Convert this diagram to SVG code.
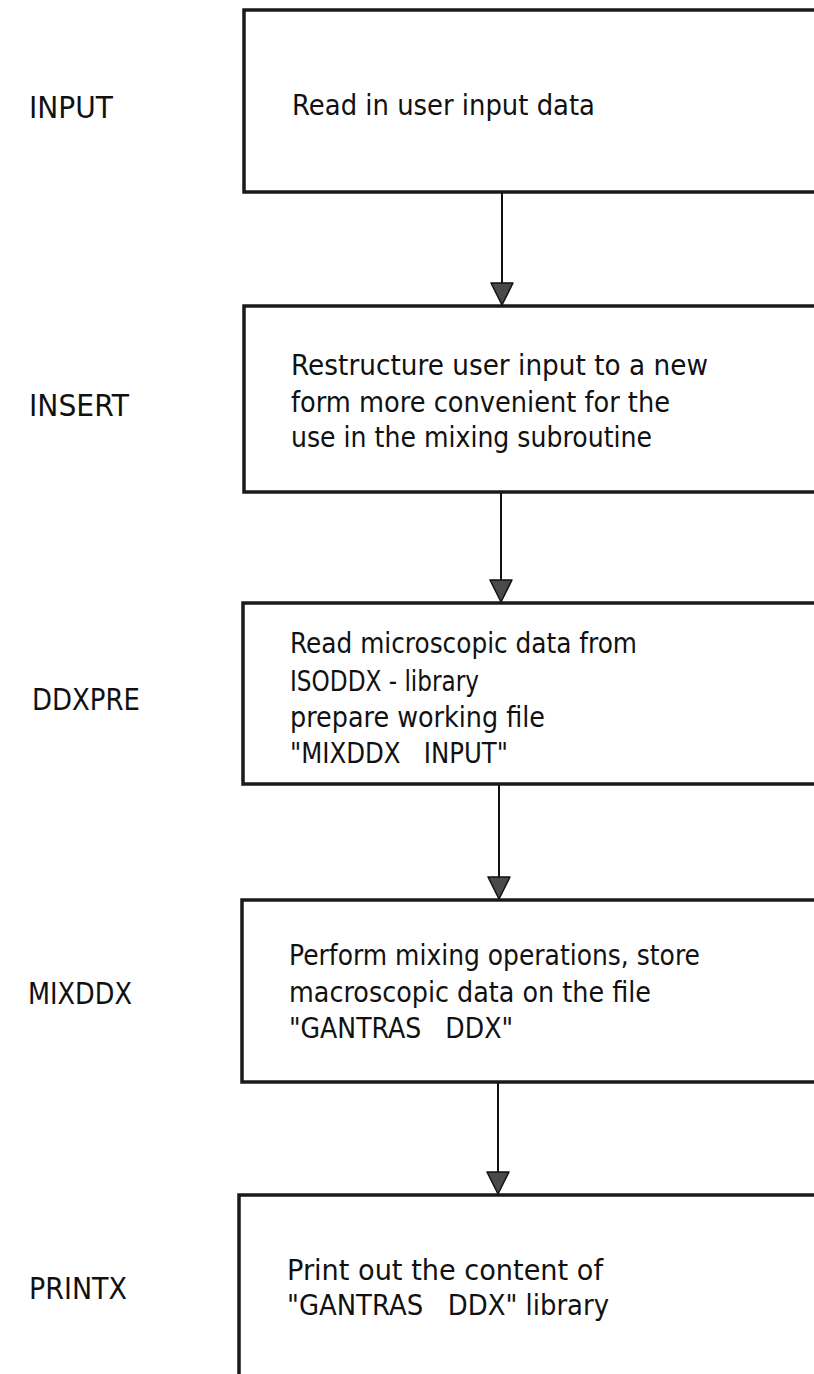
<svg xmlns="http://www.w3.org/2000/svg" width="814" height="1374" viewBox="0 0 814 1374">
<style>
.box{fill:none;stroke:#1a1a1a;stroke-width:3.5}
.t{font-family:"DejaVu Sans","Liberation Sans",sans-serif;font-size:28px;fill:#111}
.lbl{font-family:"DejaVu Sans","Liberation Sans",sans-serif;font-size:31px;fill:#111}
.conn{stroke:#111;stroke-width:2;fill:none}
.head{fill:#4a4a4a;stroke:#111;stroke-width:1.5;stroke-linejoin:round}
</style>
<rect width="814" height="1374" fill="#fff"/>
<g id="labels">
<text class="lbl" x="29" y="118" textLength="84" lengthAdjust="spacingAndGlyphs">INPUT</text>
<text class="lbl" x="29" y="416" textLength="100" lengthAdjust="spacingAndGlyphs">INSERT</text>
<text class="lbl" x="32" y="710" textLength="108" lengthAdjust="spacingAndGlyphs">DDXPRE</text>
<text class="lbl" x="28" y="1004" textLength="104" lengthAdjust="spacingAndGlyphs">MIXDDX</text>
<text class="lbl" x="29" y="1299" textLength="98" lengthAdjust="spacingAndGlyphs">PRINTX</text>
</g>
<g id="node-input">
<path class="box" d="M814 10 H244 V192 H814"/>
<text class="t" x="292" y="115" textLength="303" lengthAdjust="spacingAndGlyphs">Read in user input data</text>
</g>
<g id="node-insert">
<path class="box" d="M814 306 H244 V492 H814"/>
<text class="t" x="291" y="375" textLength="417" lengthAdjust="spacingAndGlyphs">Restructure user input to a new</text>
<text class="t" x="291" y="412" textLength="379" lengthAdjust="spacingAndGlyphs">form more convenient for the</text>
<text class="t" x="291" y="447" textLength="361" lengthAdjust="spacingAndGlyphs">use in the mixing subroutine</text>
</g>
<g id="node-ddxpre">
<path class="box" d="M814 603 H243 V784 H814"/>
<text class="t" x="290" y="653" textLength="347" lengthAdjust="spacingAndGlyphs">Read microscopic data from</text>
<text class="t" x="290" y="691" textLength="189" lengthAdjust="spacingAndGlyphs">ISODDX - library</text>
<text class="t" x="290" y="727" textLength="255" lengthAdjust="spacingAndGlyphs">prepare working file</text>
<text class="t" x="290" y="763" textLength="218" lengthAdjust="spacingAndGlyphs" xml:space="preserve">"MIXDDX   INPUT"</text>
</g>
<g id="node-mixddx">
<path class="box" d="M814 900 H242 V1082 H814"/>
<text class="t" x="289" y="965" textLength="411" lengthAdjust="spacingAndGlyphs">Perform mixing operations, store</text>
<text class="t" x="289" y="1002" textLength="362" lengthAdjust="spacingAndGlyphs">macroscopic data on the file</text>
<text class="t" x="289" y="1038" textLength="224" lengthAdjust="spacingAndGlyphs" xml:space="preserve">"GANTRAS   DDX"</text>
</g>
<g id="node-printx">
<path class="box" d="M814 1195 H239 V1374"/>
<text class="t" x="287" y="1280" textLength="316" lengthAdjust="spacingAndGlyphs">Print out the content of</text>
<text class="t" x="287" y="1315" textLength="322" lengthAdjust="spacingAndGlyphs" xml:space="preserve">"GANTRAS   DDX" library</text>
</g>
<g id="connectors">
<line class="conn" x1="502" y1="193" x2="502" y2="286"/>
<path class="head" d="M491 283 L513 283 L502 305 Z"/>
<line class="conn" x1="501" y1="493" x2="501" y2="583"/>
<path class="head" d="M490 580 L512 580 L501 602 Z"/>
<line class="conn" x1="499" y1="785" x2="499" y2="880"/>
<path class="head" d="M488 877 L510 877 L499 899 Z"/>
<line class="conn" x1="498" y1="1083" x2="498" y2="1175"/>
<path class="head" d="M487 1172 L509 1172 L498 1194 Z"/>
</g>
</svg>
